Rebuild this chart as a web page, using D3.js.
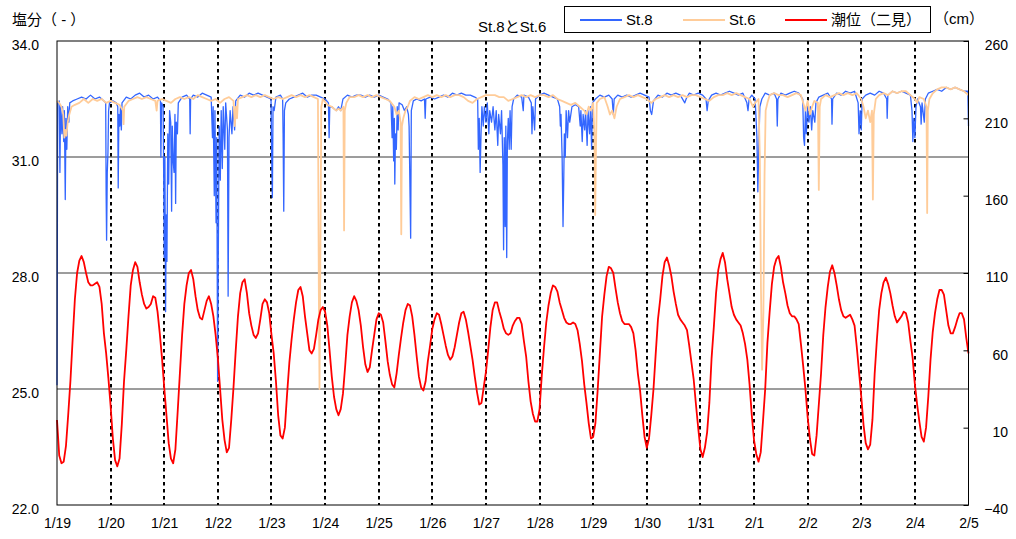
<!DOCTYPE html>
<html>
<head>
<meta charset="utf-8">
<script src="https://cdn.jsdelivr.net/npm/d3@7"></script>
<style>
  html, body { margin: 0; padding: 0; background: #fff; }
  svg { display: block; }
  text { font-family: "Liberation Sans", Arial, "Noto Sans CJK JP", sans-serif; fill: #000; }
</style>
</head>
<body>
<svg id="chart" width="1016" height="539"></svg>
<script>
// ---- data -------------------------------------------------------------
// day labels at 24 h spacing, starting 1/19 00:00
const dayLabels = ["1/19","1/20","1/21","1/22","1/23","1/24","1/25","1/26","1/27",
  "1/28","1/29","1/30","1/31","2/1","2/2","2/3","2/4","2/5"];
const salinityTicks = [22, 25, 28, 31, 34];
const tideTicks = [-40, 10, 60, 110, 160, 210, 260];

// hourly tide level at Futami (cm), hour 0 = 1/19 00:00
const tideCm = [
  15,-8,-13,-12,-2,18,40,67,93,110,118,121,117,110,104,102,102,103,104,101,90,71,58,42,
  24,3,-11,-15,-10,12,40,60,82,102,112,117,114,104,96,90,87,88,90,95,94,85,71,55,
  36,18,0,-10,-13,-4,20,45,70,90,102,110,112,106,95,86,81,80,86,92,95,90,82,70,
  55,35,15,2,-6,-3,15,36,60,82,97,104,106,97,84,76,70,68,71,80,90,93,91,84,
  70,58,40,18,5,3,10,32,52,67,80,91,99,101,95,82,71,60,58,61,70,80,86,88,
  85,76,60,43,30,22,18,22,32,50,70,82,91,95,92,86,76,62,51,46,49,60,70,80,
  84,83,78,66,53,44,38,36,45,57,68,78,86,90,89,82,70,56,43,36,34,40,53,63,
  74,80,84,83,77,70,63,57,54,56,62,70,78,84,85,80,72,63,54,43,33,25,26,36,
  46,60,75,86,91,91,85,80,74,71,70,71,76,79,81,81,77,66,56,40,27,19,14,14,
  22,44,62,78,89,97,102,101,98,91,86,81,78,77,77,78,77,73,64,53,38,26,13,3,
  4,13,34,58,82,96,108,114,113,110,100,91,84,79,77,77,77,75,71,60,45,34,18,4,
  -3,3,18,35,58,80,93,108,117,120,115,108,98,90,83,80,78,76,73,63,52,41,25,10,
  -4,-9,-3,7,26,55,75,97,112,119,123,117,106,97,88,83,80,78,76,71,64,54,38,18,
  2,-7,-12,-6,14,35,65,85,103,114,119,121,114,104,97,89,84,82,82,80,77,64,50,35,
  17,3,-7,-8,5,25,45,70,88,101,111,115,110,102,93,86,82,81,82,83,80,76,62,46,
  30,12,0,-4,-1,15,45,67,86,97,104,107,103,97,89,82,78,80,82,85,84,78,66,55,
  38,25,14,4,1,10,30,54,72,84,93,99,99,96,86,76,71,71,75,80,84,84,80,68,
  58
];

// salinity at St.8: [hour since 1/19 00:00, salinity]
const st8 = [
  [0,25.1],[0.3,32.4],[1.0,32.45],[1.3,30.6],[1.6,32.3],[2.2,31.6],[2.5,32.3],[3.0,31.4],[3.3,32.2],
  [3.7,29.9],[4.0,32.0],[4.4,31.2],[4.8,32.3],[5.3,31.9],[5.7,32.4],
  [7,32.45],[9,32.5],[11,32.55],[13,32.5],[15,32.6],[17,32.5],[19,32.55],[21,32.45],
  [21.8,32.4],[22.0,30.0],[22.2,28.85],[22.5,30.6],[22.8,31.1],[23.1,32.2],[23.5,32.4],[25,32.45],
  [26.5,32.4],[27.2,32.3],[27.4,30.2],[27.7,32.1],[28.1,31.8],[28.4,32.3],[28.8,31.7],[29.1,32.4],
  [31,32.55],[33,32.5],[35,32.6],[37,32.65],[39,32.55],[41,32.6],[43,32.5],[45,32.55],
  [46.3,32.45],[46.5,31.0],[46.8,32.4],[47.5,32.3],[47.8,30.2],[48.0,28.4],[48.3,31.0],[48.6,27.0],
  [48.9,29.5],[49.2,28.3],[49.6,31.6],[50.0,30.3],[50.4,32.2],[50.9,31.9],[51.3,29.6],[51.6,31.8],
  [52.0,30.9],[52.4,30.6],[52.8,32.1],[53.1,29.8],[53.4,31.9],[53.9,31.6],[54.3,32.4],
  [56,32.55],[58,32.6],[59.4,32.5],[59.6,31.6],[59.8,32.5],[61,32.6],[63,32.55],[65,32.65],[67,32.6],[69,32.55],
  [69.6,31.5],[69.9,32.3],[70.4,30.0],[70.7,32.2],[71.2,29.3],[71.5,31.5],[71.9,25.2],[72.2,28.5],
  [72.6,31.8],[73.1,30.4],[73.5,32.2],[74.0,30.7],[74.4,32.3],[75.1,31.2],[75.5,32.4],[76.3,31.7],
  [76.6,27.4],[77.0,31.5],[77.5,32.2],[78.3,31.6],[78.8,32.3],[79.5,31.7],[80.0,32.45],
  [82,32.6],[84,32.55],[86,32.65],[88,32.6],[90,32.65],[92,32.6],[94,32.55],[95.8,32.5],[96.1,31.0],
  [96.4,29.95],[96.7,32.3],[97.2,32.2],[98,32.55],[100,32.6],
  [101.0,32.5],[101.2,31.6],[101.5,29.6],[101.8,32.2],[102.4,32.4],[104,32.5],[106,32.55],[108,32.6],
  [110,32.65],[112,32.55],[114,32.6],[116,32.6],[118,32.55],[120,32.5],
  [121.5,32.4],[121.8,31.5],[122.1,32.3],[123,32.3],[124,32.25],[125,32.2],[126,32.3],[127,32.2],
  [128,32.5],[130,32.6],[132,32.55],[134,32.6],[136,32.6],[138,32.55],[140,32.6],[142,32.55],[144,32.6],
  [146,32.55],[148,32.5],[149.5,32.4],
  [150.0,31.5],[150.3,32.3],[150.7,30.9],[151.0,32.0],[151.2,30.3],[151.5,31.6],[151.9,31.2],[152.3,32.3],
  [152.7,31.7],[153.1,32.4],[154.5,32.35],[155.5,32.2],[156.5,32.3],[157.3,32.1],[157.6,31.8],[158.3,28.9],
  [158.6,32.2],[159.5,32.45],
  [161,32.5],[163,32.45],[164.5,32.5],[164.8,32.0],[165.1,32.5],[167,32.55],[169,32.5],[171,32.55],
  [173,32.6],[175,32.55],[177,32.65],[179,32.6],[181,32.65],[183,32.6],[185,32.6],[187,32.55],
  [188.3,32.5],[188.6,31.2],[189.0,32.0],[189.4,30.6],[189.8,31.6],[190.2,32.3],[190.8,31.8],[191.3,32.3],
  [192,31.9],[192.6,32.4],[193.3,31.6],[193.7,32.2],[194.5,31.9],[195.2,32.3],[196,31.7],[196.6,32.2],
  [197.3,31.3],[197.7,32.1],[198.5,31.6],[199.0,32.2],[199.6,30.8],[199.9,28.6],[200.2,31.5],[200.6,29.2],
  [200.9,31.8],[201.3,28.4],[201.6,31.4],[202.0,32.0],[202.4,31.2],[202.8,32.2],[203.3,31.2],[203.7,32.3],
  [204.4,32.5],
  [206,32.6],[208,32.55],[208.7,32.2],[209,32.6],[211,32.55],[212.3,32.4],[212.6,31.6],[213.0,32.3],
  [213.8,31.7],[214.2,32.5],[216,32.6],[218,32.65],[220,32.6],[222,32.55],[224,32.5],
  [225.0,32.3],[225.3,31.8],[225.6,32.1],[226.1,31.0],[226.5,29.2],[226.8,30.3],[227.1,31.6],[227.5,31.0],
  [227.9,32.2],[228.5,31.5],[229.0,32.2],[229.5,31.9],[230.5,32.3],[232,32.35],[233.5,32.3],
  [234.2,31.8],[234.5,32.2],[235.1,31.4],[235.5,32.1],[236.2,31.7],[236.6,32.2],[237.3,31.3],[237.7,32.2],
  [238.4,31.6],[238.8,32.3],[239.3,31.2],[239.7,32.4],[241,32.5],[243,32.6],[245,32.55],[247,32.6],
  [248.5,32.5],[249,32.1],[249.4,32.5],[251,32.6],[253,32.55],[255,32.6],[257,32.55],[259,32.6],
  [261,32.65],[263,32.6],[265,32.55],
  [265.6,32.2],[266.2,32.1],[267,32.45],[269,32.6],[271,32.55],[273,32.65],[275,32.6],[277,32.65],
  [279,32.6],[281,32.4],[281.6,32.5],[283,32.65],[285,32.6],[287,32.65],[289,32.6],[290.5,32.5],
  [291,32.2],[291.5,32.45],[293,32.6],[295,32.65],[297,32.6],[299,32.65],[301,32.7],[303,32.65],
  [305,32.6],[307,32.65],
  [308.8,32.4],[309.3,32.2],[309.8,32.5],[311,32.6],[312.5,32.5],[313.3,31.5],[313.7,30.1],[314.1,31.2],
  [314.6,32.3],[315.5,32.5],[317,32.65],[319,32.6],[321,32.65],[322.1,32.5],[322.4,31.8],[322.7,32.5],
  [324,32.65],[326,32.6],[328,32.65],[330,32.7],[332,32.65],[333.8,32.5],
  [334.2,31.5],[334.6,31.3],[335,32.2],[335.4,31.6],[336,32.3],[336.6,31.9],[337.2,32.3],[337.8,31.7],
  [338.3,32.2],[339.2,31.9],[339.7,32.4],[341,32.55],[343,32.6],[345,32.65],[346.7,32.5],[346.9,31.85],
  [347.2,32.5],[349,32.65],[351,32.6],[353,32.7],[355,32.65],[357,32.7],
  [358.6,32.4],[359.0,31.6],[359.5,32.2],[360,31.7],[360.4,32.5],[362,32.6],[364,32.65],[366,32.6],
  [368,32.7],[370,32.65],[371.4,32.5],[371.6,32.0],[371.9,32.6],[374,32.7],[376,32.65],[378,32.7],
  [380,32.65],[382,32.6],
  [382.7,32.2],[383.1,31.4],[383.5,32.0],[384.0,31.5],[384.5,32.3],[385.2,32.5],[386.5,32.3],[386.8,31.85],
  [387.2,32.4],[388.2,31.9],[388.7,32.5],[390,32.65],[392,32.7],[394,32.75],[396,32.7],[398,32.8],
  [400,32.75],[402,32.8],[404,32.75],[406,32.7],[407.7,32.7],[408,31.8]
];

// salinity at St.6: [hour since 1/19 00:00, salinity]
const st6 = [
  [0,32.45],[1,32.4],[2,32.3],[2.8,32.1],[3.3,31.5],[3.7,31.7],[4.2,31.55],[4.8,31.9],[5.5,32.1],
  [6.5,32.3],[8,32.35],[10,32.4],[12,32.5],[14,32.4],[16,32.5],[18,32.45],[20,32.5],[22,32.4],
  [24,32.45],[26,32.4],[28,32.35],[29.5,32.2],[29.8,31.85],[30.1,32.3],[32,32.45],[34,32.5],
  [36,32.55],[38,32.5],[40,32.55],[42,32.5],[44,32.45],[44.6,32.2],[45,32.45],[47,32.5],[49,32.45],
  [51,32.4],[53,32.5],[55,32.55],[57,32.5],[59,32.55],[61,32.5],[63,32.6],[65,32.55],[67,32.5],
  [69,32.45],[71,32.5],[73,32.4],[75,32.5],[77,32.55],[79,32.45],[79.6,31.8],[80.1,32.3],[80.6,32.0],
  [81,32.5],[83,32.55],[85,32.6],[87,32.55],[89,32.6],[91,32.55],[93,32.6],[95,32.55],[97,32.5],
  [99,32.55],[101,32.5],[103,32.55],[105,32.6],[107,32.55],[109,32.6],[111,32.55],[113,32.6],
  [115,32.55],[116.8,32.5],[117.2,27.5],[117.5,25.0],[117.9,28.5],[118.3,32.3],[119,32.5],[121,32.35],
  [123,32.3],[125,32.2],[126,32.25],[127,32.2],[128.2,32.3],[128.5,29.1],[128.8,32.2],[129.5,32.4],
  [131,32.55],[133,32.55],[135,32.6],[137,32.55],[139,32.6],[141,32.55],[143,32.6],[145,32.55],
  [147,32.5],[149,32.45],[151,32.3],[152,32.1],[153,32.2],[153.8,31.9],[154.1,29.0],[154.4,31.8],
  [155,32.0],[156,32.2],[157,32.3],[158,32.45],[160,32.55],[162,32.5],[164,32.55],[166,32.6],
  [168,32.55],[170,32.6],[172,32.55],[174,32.6],[176,32.55],[178,32.6],[180,32.6],[182,32.55],
  [184,32.45],[186,32.4],[188,32.5],[190,32.55],[192,32.6],[194,32.6],[196,32.6],[198,32.55],
  [200,32.55],[202,32.45],[204,32.5],[206,32.55],[208,32.6],[210,32.55],[212,32.6],[214,32.55],
  [216,32.6],[218,32.6],[220,32.55],[222,32.6],[224,32.5],[226,32.45],[228,32.4],[230,32.35],
  [232,32.4],[234,32.3],[236,32.2],[237,32.1],[238,32.3],[239,32.2],[240,32.4],[240.6,31.5],
  [240.9,29.5],[241.2,31.0],[241.6,32.4],[243,32.5],[245,32.55],[246.5,32.3],[247.5,32.1],[248.5,32.2],
  [249.5,32.0],[250.5,32.3],[252,32.5],[254,32.55],[256,32.6],[258,32.55],[260,32.6],[262,32.55],
  [264,32.5],[266,32.4],[268,32.5],[270,32.55],[272,32.6],[274,32.55],[276,32.6],[278,32.55],
  [280,32.6],[282,32.55],[284,32.6],[286,32.6],[288,32.55],[290,32.5],[292,32.45],[294,32.55],
  [296,32.6],[298,32.6],[300,32.65],[302,32.6],[304,32.65],[306,32.6],[308,32.55],[310,32.5],
  [311.5,32.3],[312.5,32.4],[314,32.5],[314.6,31.0],[315.1,27.6],[315.6,25.5],[316.2,27.0],[316.7,30.5],
  [317.2,32.2],[318,32.4],[319,32.6],[321,32.65],[323,32.6],[325,32.6],[327,32.55],[329,32.6],
  [331,32.65],[333,32.6],[334,32.4],[335,32.2],[336,32.45],[337,32.1],[338,32.3],[339,32.45],
  [340.6,32.4],[341,30.15],[341.4,32.3],[342,32.5],[344,32.6],[346,32.55],[348,32.6],[350,32.65],
  [352,32.6],[354,32.65],[356,32.6],[358,32.65],[360,32.5],[361,32.3],[362,32.0],[363,32.2],
  [364,31.9],[364.8,32.2],[365.2,29.9],[365.6,32.1],[366.5,32.5],[368,32.6],[370,32.65],[372,32.6],
  [374,32.7],[376,32.65],[378,32.7],[380,32.7],[382,32.6],[384,32.5],[385,32.4],[386,32.55],
  [388,32.5],[389.2,32.3],[389.5,29.55],[389.8,32.2],[390.5,32.5],[392,32.65],[394,32.75],[396,32.8],
  [398,32.8],[400,32.75],[402,32.8],[404,32.75],[406,32.7],[408,32.6]
];

// ---- layout -----------------------------------------------------------
const plot = { left: 57, right: 968.5, top: 41, bottom: 505 };
const colors = { st8: "#3366FF", st6: "#FFCC99", tide: "#FF0000" };

const svg = d3.select("#chart");

const x = d3.scaleLinear().domain([0, 408]).range([plot.left, plot.right]);
const ySal = d3.scaleLinear().domain([22, 34]).range([plot.bottom, plot.top]);
const yTide = d3.scaleLinear().domain([-40, 260]).range([plot.bottom, plot.top]);

// horizontal grid lines
svg.append("g")
  .selectAll("line")
  .data(salinityTicks.filter(v => v > 22 && v < 34))
  .join("line")
  .attr("x1", plot.left).attr("x2", plot.right)
  .attr("y1", d => ySal(d)).attr("y2", d => ySal(d))
  .attr("stroke", "#3a3a3a").attr("stroke-width", 1);

// dotted day separators
const dayHours = d3.range(24, 408, 24);
svg.append("g")
  .selectAll("line")
  .data(dayHours)
  .join("line")
  .attr("x1", d => Math.round(x(d))).attr("x2", d => Math.round(x(d)))
  .attr("y1", plot.top).attr("y2", plot.bottom)
  .attr("stroke", "#000").attr("stroke-width", 2)
  .attr("stroke-dasharray", "3.5,3.5");

// series
const salLine = d3.line().x(d => x(d[0])).y(d => ySal(d[1]));
const tideLine = d3.line().x((d, i) => x(i)).y(d => yTide(d));

svg.append("path").datum(st8)
  .attr("fill", "none").attr("stroke", colors.st8).attr("stroke-width", 1.3)
  .attr("stroke-linejoin", "round").attr("d", salLine);
svg.append("path").datum(st6)
  .attr("fill", "none").attr("stroke", colors.st6).attr("stroke-width", 1.8)
  .attr("stroke-linejoin", "round").attr("d", salLine);
svg.append("path").datum(tideCm)
  .attr("fill", "none").attr("stroke", colors.tide).attr("stroke-width", 1.8)
  .attr("stroke-linejoin", "round").attr("d", tideLine);

// plot frame
svg.append("rect")
  .attr("x", plot.left).attr("y", plot.top)
  .attr("width", plot.right - plot.left).attr("height", plot.bottom - plot.top)
  .attr("fill", "none").attr("stroke", "#000").attr("stroke-width", 1);

// left axis (salinity)
const axL = svg.append("g")
  .attr("transform", `translate(${plot.left},0)`)
  .call(d3.axisLeft(ySal).tickValues(salinityTicks).tickFormat(d3.format(".1f")).tickSize(0).tickPadding(18));
axL.select(".domain").remove();
axL.selectAll("text").attr("font-size", 14).attr("dy", "0.62em")
  .style("font-family", '"Liberation Sans", Arial, sans-serif');

// right axis (tide level)
const axR = svg.append("g")
  .attr("transform", `translate(${plot.right},0)`)
  .call(d3.axisRight(yTide).tickValues(tideTicks).tickSize(-5).tickPadding(0));
axR.select(".domain").remove();
axR.selectAll("line").attr("stroke", "#000");
axR.selectAll("text").attr("font-size", 14).attr("dy", "0.62em")
  .attr("text-anchor", "end").attr("x", 1008 - plot.right)
  .style("font-family", '"Liberation Sans", Arial, sans-serif');

// bottom axis (dates)
const axB = svg.append("g")
  .attr("transform", `translate(0,${plot.bottom})`)
  .call(d3.axisBottom(x).tickValues(d3.range(0, 409, 24))
    .tickFormat((d, i) => dayLabels[i]).tickSize(0).tickPadding(13));
axB.select(".domain").remove();
axB.selectAll("text").attr("font-size", 14)
  .style("font-family", '"Liberation Sans", Arial, sans-serif');

// titles
svg.append("text").attr("x", 12).attr("y", 25).attr("font-size", 15).text("塩分（ - ）");
svg.append("text").attr("x", 478).attr("y", 32).attr("font-size", 15).text("St.8とSt.6");
svg.append("text").attr("x", 934).attr("y", 24).attr("font-size", 15).text("（cm）");

// legend
const legend = svg.append("g");
legend.append("rect").attr("x", 564.5).attr("y", 6.5).attr("width", 366).attr("height", 26)
  .attr("fill", "#fff").attr("stroke", "#000").attr("stroke-width", 1);
const legendItems = [
  { label: "St.8", color: colors.st8, x: 580 },
  { label: "St.6", color: colors.st6, x: 683 },
  { label: "潮位（二見）", color: colors.tide, x: 785 }
];
const li = legend.selectAll("g.item").data(legendItems).join("g").attr("class", "item");
li.append("line").attr("x1", d => d.x).attr("x2", d => d.x + 42)
  .attr("y1", 20).attr("y2", 20).attr("stroke", d => d.color).attr("stroke-width", 2);
li.append("text").attr("x", d => d.x + 46).attr("y", 25).attr("font-size", 15).text(d => d.label);
</script>
</body>
</html>
